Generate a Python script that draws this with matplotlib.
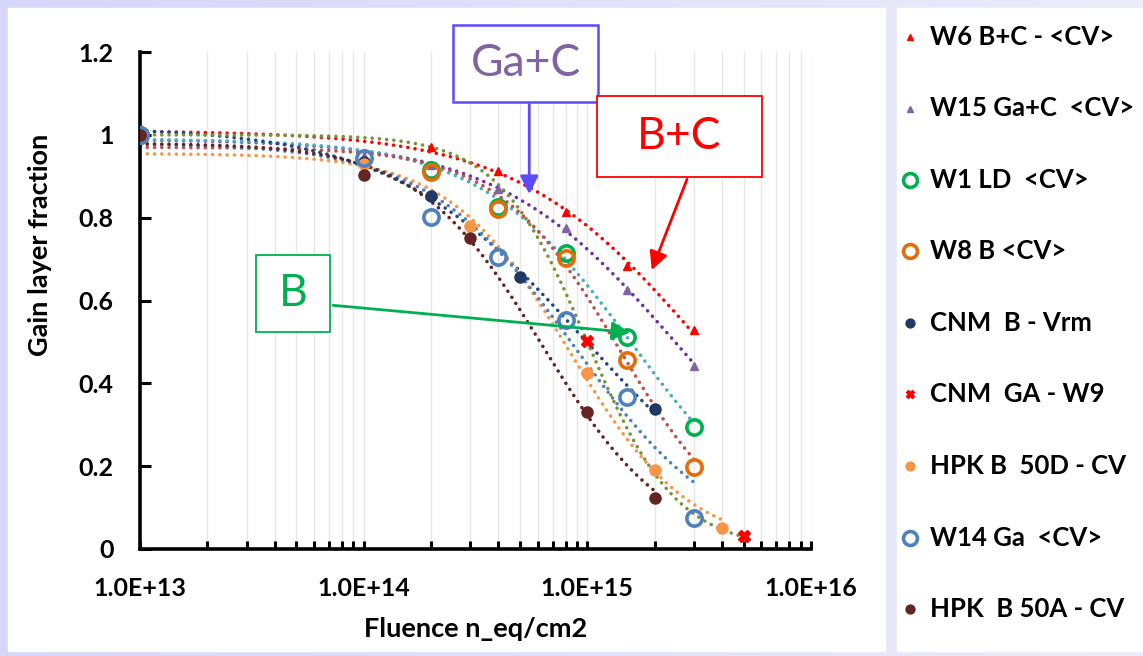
import numpy as np
import matplotlib.pyplot as plt
from matplotlib.lines import Line2D
from matplotlib.patches import Rectangle
from matplotlib.colors import LinearSegmentedColormap
from matplotlib.ticker import LogLocator, FixedLocator, FuncFormatter, NullFormatter

plt.rcParams["font.family"] = ["Lato", "DejaVu Sans"]

# fluence points (n_eq/cm2) and measured gain layer fraction per sample
w6_x = [1e13, 2e14, 4e14, 8e14, 1.5e15, 3e15]
w6_y = [1.0, 0.971, 0.913, 0.814, 0.684, 0.529]

w15_x = [1e13, 1e14, 2e14, 4e14, 8e14, 1.5e15, 3e15]
w15_y = [1.0, 0.95, 0.928, 0.870, 0.775, 0.626, 0.442]

w1_x = [1e13, 2e14, 4e14, 8e14, 1.5e15, 3e15]
w1_y = [1.0, 0.915, 0.826, 0.715, 0.512, 0.295]

w8_x = [1e13, 2e14, 4e14, 8e14, 1.5e15, 3e15]
w8_y = [1.0, 0.910, 0.821, 0.703, 0.457, 0.198]

cnmb_x = [1e13, 1e14, 2e14, 5e14, 2e15]
cnmb_y = [1.0, 0.935, 0.853, 0.657, 0.338]

cnmga_x = [1e13, 1e15, 5e15]
cnmga_y = [1.0, 0.502, 0.031]

hpk50d_x = [1e14, 3e14, 1e15, 2e15, 4e15]
hpk50d_y = [0.930, 0.780, 0.426, 0.190, 0.051]

w14_x = [1e13, 1e14, 2e14, 4e14, 8e14, 1.5e15, 3e15]
w14_y = [1.0, 0.945, 0.802, 0.705, 0.553, 0.367, 0.075]

hpk50a_x = [1e13, 1e14, 3e14, 1e15, 2e15]
hpk50a_y = [1.0, 0.903, 0.751, 0.331, 0.123]

labels = [
    "W6 B+C - <CV>",
    "W15 Ga+C  <CV>",
    "W1 LD  <CV>",
    "W8 B <CV>",
    "CNM  B - Vrm",
    "CNM  GA - W9",
    "HPK B  50D - CV",
    "W14 Ga  <CV>",
    "HPK  B 50A - CV",
]

# (x, y, marker style, trend line colour)
series = [
    (w6_x, w6_y, dict(marker="^", color="#FF0000", ms=6, mec="#FF0000"), "#FF0000"),
    (w15_x, w15_y, dict(marker="^", color="#8064A2", ms=6, mec="#8064A2"), "#7030A0"),
    (w1_x, w1_y, dict(marker="o", mfc="none", mec="#00B050", ms=11, mew=2.6), "#4BACC6"),
    (w8_x, w8_y, dict(marker="o", mfc="none", mec="#E46C0A", ms=11, mew=2.6), "#C0504D"),
    (cnmb_x, cnmb_y, dict(marker="o", color="#1F3864", ms=8, mec="#1F3864"), "#1F497D"),
    (cnmga_x, cnmga_y, dict(marker="X", color="#FF0000", ms=8, mec="#FF0000"), "#77933C"),
    (hpk50d_x, hpk50d_y, dict(marker="o", color="#F79646", ms=8, mec="#F79646"), "#F79646"),
    (w14_x, w14_y, dict(marker="o", mfc="none", mec="#4F81BD", ms=11, mew=2.6), "#4F81BD"),
    (hpk50a_x, hpk50a_y, dict(marker="o", color="#632523", ms=8, mec="#632523"), "#632523"),
]


def fit_sigmoid(xs, ys):
    # brute-force least squares of y = A / (1 + exp((log10 x - u0) / w))
    u = np.log10(xs)
    A = np.linspace(0.94, 1.08, 29)[:, None, None, None]
    u0 = np.linspace(14.0, 16.5, 126)[None, :, None, None]
    w = np.linspace(0.1, 1.2, 111)[None, None, :, None]
    pred = A / (1 + np.exp((u[None, None, None, :] - u0) / w))
    sse = ((pred - ys) ** 2).sum(axis=-1)
    i, j, k = np.unravel_index(np.argmin(sse), sse.shape)
    return A.ravel()[i], u0.ravel()[j], w.ravel()[k]


fig = plt.figure(figsize=(11.43, 6.56), dpi=100)

# lavender backdrop with two white panels
bg = fig.add_axes([0, 0, 1, 1], zorder=-10)
grad = np.linspace(0, 1, 256).reshape(1, -1)
cmap = LinearSegmentedColormap.from_list("lav", ["#D6D6F8", "#ECECFB"])
bg.imshow(grad, aspect="auto", cmap=cmap, extent=[0, 1, 0, 1])
bg.add_patch(Rectangle((8 / 1143, 5 / 656), 877 / 1143, 643 / 656, color="white"))
bg.add_patch(Rectangle((897 / 1143, 5 / 656), 246 / 1143, 643 / 656, color="white"))
bg.set_xlim(0, 1)
bg.set_ylim(0, 1)
bg.axis("off")

ax = fig.add_axes([140 / 1143, 1 - 549 / 656, 671 / 1143, 497 / 656])
ax.set_facecolor("none")

# trend lines from 1e13 up to the last measured fluence
for (xs, ys, mstyle, lcolor) in series:
    xs = np.array(xs)
    ys = np.array(ys)
    A, u0, w = fit_sigmoid(xs, ys)
    fu = np.linspace(13, np.log10(xs.max()), 300)
    fy = A / (1 + np.exp((fu - u0) / w))
    ax.plot(10 ** fu, fy, color=lcolor, lw=2.6,
            linestyle=(0, (0.01, 2.0)), dash_capstyle="round", zorder=2)
    ax.plot(xs, ys, linestyle="none", zorder=3, **mstyle)

ax.set_xscale("log")
ax.set_xlim(1e13, 1e16)
ax.set_ylim(0, 1.2)

ax.xaxis.set_major_locator(LogLocator(base=10, numticks=10))
ax.xaxis.set_minor_locator(LogLocator(base=10, subs=np.arange(2, 10), numticks=20))
ax.xaxis.set_minor_formatter(NullFormatter())
ax.xaxis.set_major_formatter(FuncFormatter(lambda v, p: "1.0E+%d" % round(np.log10(v))))
ax.yaxis.set_major_locator(FixedLocator([0, 0.2, 0.4, 0.6, 0.8, 1.0, 1.2]))
ax.yaxis.set_major_formatter(FuncFormatter(lambda v, p: "%g" % round(v, 1)))

ax.grid(True, which="both", axis="x", color="#E6E6E6", lw=1)
ax.set_axisbelow(True)

for side in ["top", "right"]:
    ax.spines[side].set_visible(False)
for side in ["left", "bottom"]:
    ax.spines[side].set_linewidth(2.6)

ax.tick_params(axis="both", which="both", direction="in", width=2.2, length=6,
               labelsize=18)
ax.tick_params(axis="y", length=8, pad=19)
ax.tick_params(axis="x", which="major", pad=20)
for t in ax.get_xticklabels() + ax.get_yticklabels():
    t.set_fontweight("bold")

ax.set_xlabel("Fluence n_eq/cm2", fontsize=19.5, fontweight="bold")
ax.set_ylabel("Gain layer fraction", fontsize=19.5, fontweight="bold")
ax.xaxis.set_label_coords(0.5, -0.137)
ax.yaxis.set_label_coords(-0.131, 0.612)


def callout(x0, x1, y0, y1, text, tcolor, ecolor, lw):
    # box given in axes fraction, text centred in it
    ax.add_patch(Rectangle((x0, y0), x1 - x0, y1 - y0, transform=ax.transAxes,
                           fc="white", ec=ecolor, lw=lw, zorder=6, clip_on=False))
    ax.text((x0 + x1) / 2, (y0 + y1) / 2, text, transform=ax.transAxes,
            color=tcolor, fontsize=32, ha="center", va="center", zorder=7,
            clip_on=False)


arrow_kw = dict(arrowstyle="-|>,head_length=1.1,head_width=0.55", lw=2)

callout(0.4665, 0.6826, 0.8994, 1.0543, "Ga+C", "#8064A2", "#5B4BFF", 1.8)
ax.annotate("", xy=(5.5e14, 0.850), xytext=(5.5e14, 1.08),
            arrowprops=dict(color="#5B4BFF", **arrow_kw), zorder=5)

callout(0.681, 0.927, 0.7485, 0.9115, "B+C", "#FF0000", "#FF0000", 1.3)
ax.annotate("", xy=(1.92e15, 0.667), xytext=(2.82e15, 0.899),
            arrowprops=dict(color="#FF0000", **arrow_kw), zorder=5)

callout(0.1729, 0.2832, 0.4366, 0.5915, "B", "#00B050", "#00B050", 1.3)
ax.annotate("", xy=(1.6e15, 0.522), xytext=(7.1e13, 0.589),
            arrowprops=dict(color="#00B050", **arrow_kw), zorder=5)

# legend panel on the right
row_y = np.linspace(37, 609, len(labels))
for (xs, ys, mstyle, lcolor), lab, yy in zip(series, labels, row_y):
    yf = 1 - yy / 656
    m = dict(mstyle)
    if m.get("ms", 8) > 9:
        m["ms"] = 10
    else:
        m["ms"] = m["ms"] * 0.8
    fig.add_artist(Line2D([910 / 1143], [yf], transform=fig.transFigure,
                          linestyle="none", **m))
    fig.text(930 / 1143, yf, lab, fontsize=18.5, fontweight="bold",
             va="center", ha="left")

fig.savefig("out.png", dpi=100)
